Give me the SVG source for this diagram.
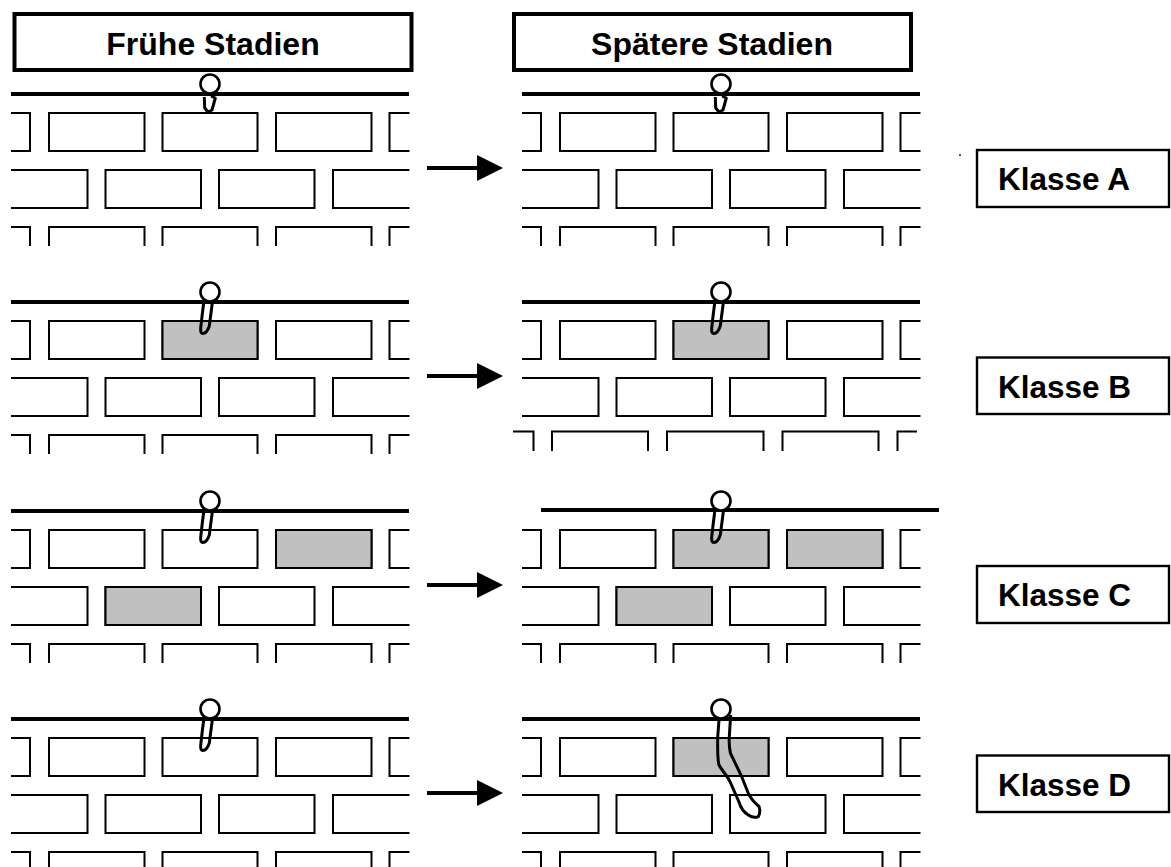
<svg xmlns="http://www.w3.org/2000/svg" xmlns:xlink="http://www.w3.org/1999/xlink" width="1171" height="867" viewBox="0 0 1171 867">
  <style>
    text { font-family: "Liberation Sans", Arial, sans-serif; font-weight: bold; fill: #000; }
    .head { font-size: 32px; text-anchor: middle; }
    .cls { font-size: 31.5px; }
    .title { fill: #fff; stroke: #000; stroke-width: 4; }
    .clsbox { fill: #fff; stroke: #000; stroke-width: 2.4; }
    .brick { fill: none; stroke: #000; stroke-width: 2; }
    .stained { fill: #c0c0c0; stroke: #000; stroke-width: 2; }
    .rail { fill: none; stroke: #000; stroke-width: 4; }
    .shaft { fill: none; stroke: #000; stroke-width: 3; stroke-linejoin: round; }
    .head-ball { fill: #fff; stroke: #000; stroke-width: 2.6; }
    .conn { stroke: #000; stroke-width: 4; fill: none; }
  </style>
  <defs>
    <marker id="tip" markerUnits="userSpaceOnUse" markerWidth="27" markerHeight="27" refX="1" refY="13.5" orient="auto">
      <path d="M1 0.5 L27 13.5 L1 26.5 Z" fill="#000"/>
    </marker>
    <!-- two closed courses of bricks -->
    <g id="upper-courses">
      <path class="brick" d="M11 113H30V151H11"/>
      <rect class="brick" x="49" y="113" width="95.500" height="38"/>
      <rect class="brick" x="162.500" y="113" width="95" height="38"/>
      <rect class="brick" x="276" y="113" width="95.500" height="38"/>
      <path class="brick" d="M409.500 113H389.500V151H409.500"/>
      <path class="brick" d="M11 170H87.500V208H11"/>
      <rect class="brick" x="105.500" y="170" width="95.500" height="38"/>
      <rect class="brick" x="219" y="170" width="95.500" height="38"/>
      <path class="brick" d="M409.500 170H333V208H409.500"/>
    </g>
    <!-- third course, cut off at the bottom -->
    <g id="lower-course">
      <path class="brick" d="M11 227H30V246"/>
      <path class="brick" d="M49 246V227H144.500V246"/>
      <path class="brick" d="M162.500 246V227H257.500V246"/>
      <path class="brick" d="M276 246V227H371.500V246"/>
      <path class="brick" d="M389.500 246V227H409.500"/>
    </g>
    <path id="short-tail" class="shaft" d="M204.300 97 L204.700 108 L208 112 L212 110 L215.300 98 L211 96"/>
    <path id="mid-tail" class="shaft" d="M203.700 95 L202.300 106 L200.700 120 C200.500 124 201 125.500 203 125.500 C206 125.500 208 122 209.300 118 L212.300 95"/>
    <circle id="ball" class="head-ball" cx="210" cy="84" r="9.500"/>
  </defs>

  <g id="title-early">
    <rect class="title" x="14.500" y="14" width="397" height="56"/>
    <text class="head" x="213" y="55">Frühe Stadien</text>
  </g>
  <g id="title-late">
    <rect class="title" x="514" y="14" width="397" height="56"/>
    <text class="head" x="712" y="55">Spätere Stadien</text>
  </g>

  <!-- early stages, left column -->
  <g id="early-a">
    <path class="rail" d="M11 94H409"/>
    <use xlink:href="#upper-courses"/>
    <use xlink:href="#lower-course"/>
    <use xlink:href="#short-tail"/>
    <use xlink:href="#ball"/>
  </g>
  <g id="early-b" transform="translate(0 208)">
    <path class="rail" d="M11 94H409"/>
    <use xlink:href="#upper-courses"/>
    <use xlink:href="#lower-course"/>
    <rect class="stained" x="162.500" y="113" width="95" height="38"/>
    <use xlink:href="#mid-tail"/>
    <use xlink:href="#ball"/>
  </g>
  <g id="early-c" transform="translate(0 417)">
    <path class="rail" d="M11 94H409"/>
    <use xlink:href="#upper-courses"/>
    <use xlink:href="#lower-course"/>
    <rect class="stained" x="276" y="113" width="95.500" height="38"/>
    <rect class="stained" x="105.500" y="170" width="95.500" height="38"/>
    <use xlink:href="#mid-tail"/>
    <use xlink:href="#ball"/>
  </g>
  <g id="early-d" transform="translate(0 625)">
    <path class="rail" d="M11 94H409"/>
    <use xlink:href="#upper-courses"/>
    <use xlink:href="#lower-course"/>
    <use xlink:href="#mid-tail"/>
    <use xlink:href="#ball"/>
  </g>

  <!-- later stages, right column -->
  <g id="late-a" transform="translate(511 0)">
    <path class="rail" d="M11 94H409"/>
    <use xlink:href="#upper-courses"/>
    <use xlink:href="#lower-course"/>
    <use xlink:href="#short-tail"/>
    <use xlink:href="#ball"/>
  </g>
  <g id="late-b" transform="translate(511 208)">
    <path class="rail" d="M11 94H409"/>
    <use xlink:href="#upper-courses"/>
    <path class="brick" d="M2 223.500H22.500V243"/>
    <path class="brick" d="M41 243V223.500H137V243"/>
    <path class="brick" d="M156 243V223.500H252.500V243"/>
    <path class="brick" d="M271.500 243V223.500H367.500V243"/>
    <path class="brick" d="M386.500 243V223.500H406"/>
    <rect class="stained" x="162.500" y="113" width="95" height="38"/>
    <use xlink:href="#mid-tail"/>
    <use xlink:href="#ball"/>
  </g>
  <g id="late-c" transform="translate(511 417)">
    <path class="rail" d="M30 93H428"/>
    <use xlink:href="#upper-courses"/>
    <use xlink:href="#lower-course"/>
    <rect class="stained" x="162.500" y="113" width="95" height="38"/>
    <rect class="stained" x="276" y="113" width="95.500" height="38"/>
    <rect class="stained" x="105.500" y="170" width="95.500" height="38"/>
    <use xlink:href="#mid-tail"/>
    <use xlink:href="#ball"/>
  </g>
  <g id="late-d">
    <g transform="translate(511 625)">
      <path class="rail" d="M11 94H409"/>
      <use xlink:href="#upper-courses"/>
      <use xlink:href="#lower-course"/>
      <rect class="stained" x="162.500" y="113" width="95" height="38"/>
      <use xlink:href="#ball"/>
    </g>
    <path class="shaft" d="M719 720 L717.700 737 C717.500 750 717.500 760 719 765 C722 771 727 775 730 781.700 L739 802 C741 809 745 813 748.300 815 C752 817.500 757 818 758.500 816.500 C760 813 760 809 759 806.500 C755 803 751 799 748.300 793.300 L741.700 776.700 L730.500 753.300 C729 747 729 742 729.300 736.700 L730.700 715"/>
  </g>

  <!-- transition arrows between the columns -->
  <g id="connectors">
    <path class="conn" d="M427 168H477" marker-end="url(#tip)"/>
    <path class="conn" d="M427 376H477" marker-end="url(#tip)"/>
    <path class="conn" d="M427 585H477" marker-end="url(#tip)"/>
    <path class="conn" d="M427 793H477" marker-end="url(#tip)"/>
  </g>

  <circle cx="960" cy="155" r="0.900" fill="#000"/>

  <g id="class-a">
    <rect class="clsbox" x="977" y="150" width="192" height="57"/>
    <text class="cls" x="998" y="190">Klasse A</text>
  </g>
  <g id="class-b">
    <rect class="clsbox" x="977" y="357.500" width="192" height="56.500"/>
    <text class="cls" x="998" y="398">Klasse B</text>
  </g>
  <g id="class-c">
    <rect class="clsbox" x="977" y="566" width="192" height="57"/>
    <text class="cls" x="998" y="606">Klasse C</text>
  </g>
  <g id="class-d">
    <rect class="clsbox" x="977" y="755.500" width="192" height="56.500"/>
    <text class="cls" x="998" y="796">Klasse D</text>
  </g>
</svg>
